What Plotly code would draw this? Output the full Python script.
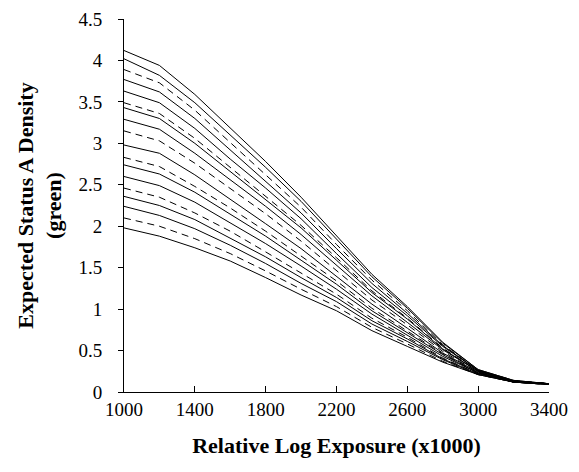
import plotly.graph_objects as go

x_vals = [1000, 1200, 1400, 1600, 1800, 2000, 2200, 2400, 2600, 2800, 3000, 3200, 3400]

s01 = [4.12, 3.94, 3.59, 3.18, 2.78, 2.35, 1.88, 1.42, 1.03, 0.60, 0.27, 0.14, 0.10]
s02 = [4.02, 3.82, 3.49, 3.10, 2.71, 2.30, 1.84, 1.39, 1.01, 0.59, 0.27, 0.14, 0.10]
s03 = [3.89, 3.73, 3.40, 3.01, 2.63, 2.23, 1.78, 1.35, 0.98, 0.57, 0.26, 0.14, 0.10]
s04 = [3.77, 3.62, 3.30, 2.92, 2.55, 2.16, 1.73, 1.31, 0.95, 0.56, 0.26, 0.13, 0.10]
s05 = [3.63, 3.49, 3.18, 2.81, 2.46, 2.09, 1.67, 1.26, 0.92, 0.55, 0.26, 0.13, 0.10]
s06 = [3.49, 3.36, 3.06, 2.71, 2.37, 2.01, 1.62, 1.22, 0.89, 0.53, 0.25, 0.13, 0.10]
s07 = [3.43, 3.30, 3.00, 2.66, 2.33, 1.98, 1.59, 1.20, 0.88, 0.52, 0.25, 0.13, 0.10]
s08 = [3.29, 3.17, 2.88, 2.56, 2.24, 1.90, 1.53, 1.16, 0.84, 0.51, 0.25, 0.13, 0.10]
s09 = [3.15, 3.03, 2.76, 2.46, 2.15, 1.82, 1.47, 1.11, 0.81, 0.49, 0.24, 0.13, 0.10]
s10 = [2.98, 2.88, 2.62, 2.33, 2.03, 1.73, 1.40, 1.06, 0.77, 0.47, 0.24, 0.12, 0.10]
s11 = [2.83, 2.72, 2.48, 2.22, 1.94, 1.64, 1.34, 1.01, 0.74, 0.46, 0.23, 0.12, 0.10]
s12 = [2.74, 2.63, 2.41, 2.15, 1.88, 1.59, 1.30, 0.98, 0.72, 0.45, 0.23, 0.12, 0.10]
s13 = [2.60, 2.49, 2.29, 2.04, 1.79, 1.52, 1.24, 0.94, 0.69, 0.43, 0.23, 0.12, 0.10]
s14 = [2.46, 2.35, 2.16, 1.94, 1.69, 1.44, 1.18, 0.89, 0.66, 0.41, 0.22, 0.12, 0.09]
s15 = [2.36, 2.25, 2.08, 1.86, 1.63, 1.38, 1.14, 0.86, 0.64, 0.40, 0.22, 0.12, 0.09]
s16 = [2.24, 2.13, 1.97, 1.77, 1.55, 1.31, 1.09, 0.82, 0.61, 0.39, 0.21, 0.12, 0.09]
s17 = [2.10, 2.00, 1.85, 1.67, 1.46, 1.24, 1.03, 0.78, 0.58, 0.37, 0.21, 0.12, 0.09]
s18 = [1.98, 1.88, 1.74, 1.58, 1.38, 1.17, 0.98, 0.74, 0.55, 0.36, 0.21, 0.12, 0.09]

series = [s01, s02, s03, s04, s05, s06, s07, s08, s09, s10, s11, s12, s13, s14, s15, s16, s17, s18]
dashed = [False, False, True, False, False, True, False, False, True,
          False, True, False, False, True, False, False, True, False]

x_ticks = [1000, 1400, 1800, 2200, 2600, 3000, 3400]
y_ticks = [0, 0.5, 1, 1.5, 2, 2.5, 3, 3.5, 4, 4.5]

fig = go.Figure()
for ys, d in zip(series, dashed):
    fig.add_trace(go.Scatter(
        x=x_vals, y=ys, mode="lines", showlegend=False,
        line=dict(color="black", width=1, dash="7px,5px" if d else "solid"),
    ))

font_family = "Liberation Serif, Times New Roman, serif"
fig.update_layout(
    width=579, height=472,
    paper_bgcolor="white", plot_bgcolor="white",
    margin=dict(l=116, r=38, t=11, b=88),
    font=dict(family=font_family, color="black", size=19),
    xaxis=dict(
        range=[1000, 3400], tickvals=x_ticks, ticktext=[str(v) for v in x_ticks],
        automargin=False, ticklabeloverflow="allow",
        showgrid=False, zeroline=False, showline=True, linecolor="black", linewidth=1,
        ticks="inside", ticklen=6, tickcolor="black",
        tickfont=dict(size=19),
        title=dict(text="<b>Relative Log Exposure (x1000)</b>", font=dict(size=22), standoff=18),
    ),
    yaxis=dict(
        range=[0, 4.5], tickvals=y_ticks, ticktext=[f"{v:g}" for v in y_ticks],
        automargin=False, ticklabeloverflow="allow",
        showgrid=False, zeroline=False, showline=True, linecolor="black", linewidth=1,
        ticks="outside", ticklen=5, tickcolor="black", ticklabelstandoff=12,
        tickfont=dict(size=19),
        title=dict(text="<b>Expected Status A Density<br>(green)</b>", font=dict(size=22), standoff=10),
    ),
)

fig.write_html("out.html")
